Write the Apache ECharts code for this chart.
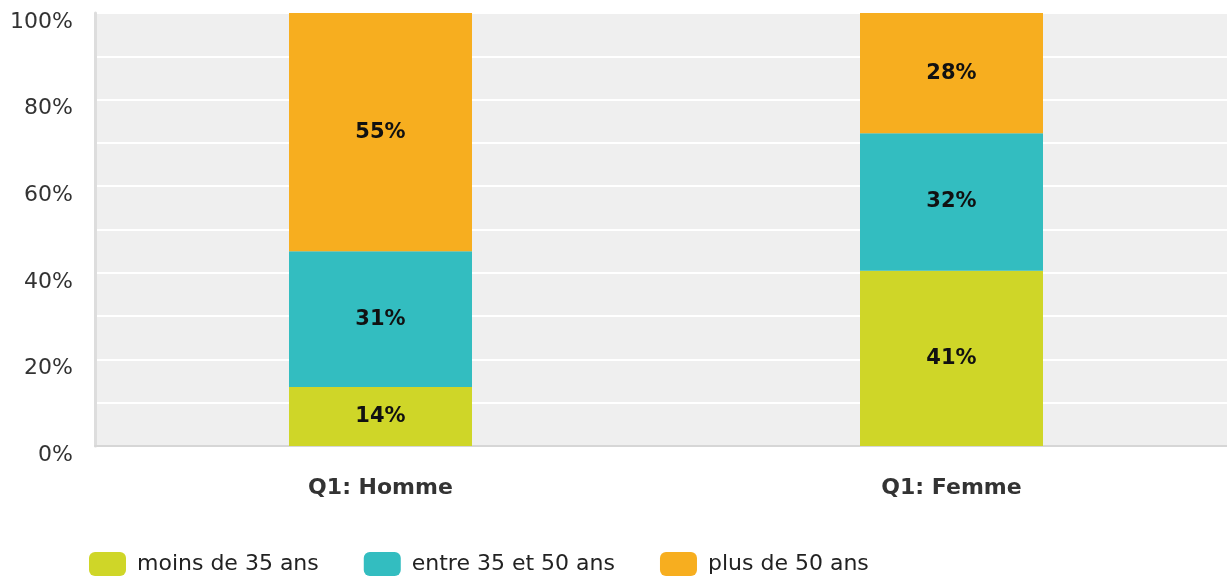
<!DOCTYPE html>
<html>
<head>
<meta charset="utf-8">
<script src="https://cdn.jsdelivr.net/npm/echarts@6/dist/echarts.min.js"></script>
<style>
    html, body { margin: 0; padding: 0; background: #fff; overflow: hidden; }
    #chart { width: 1237px; height: 577px; }
</style>
</head>
<body>
<div id="chart"></div>
<script>
// catégories et valeurs (en %)
var categories = ['Q1: Homme', 'Q1: Femme'];
var moins35 = [13.6, 40.5];
var entre3550 = [31.4, 31.7];
var plus50 = [55.0, 27.8];
var seriesNames = ['moins de 35 ans', 'entre 35 et 50 ans', 'plus de 50 ans'];

(function () {
    // le graphique déborde de 10px à droite, comme l'original
    var chart = echarts.init(document.getElementById('chart'));
    var font = 'DejaVu Sans';

    var barLabel = {
        show: true,
        position: 'inside',
        fontFamily: font,
        fontSize: 21,
        fontWeight: 'bold',
        color: '#111',
        formatter: function (p) { return Math.round(p.value) + '%'; }
    };

    option = {
        animation: false,
        color: ['#cfd628', '#33bdc0', '#f7ae1f'],
        grid: {
            left: 95,
            top: 13,
            right: 0,
            bottom: 131,
            show: true,
            backgroundColor: '#efefef',
            borderWidth: 0
        },
        legend: {
            left: 89,
            top: 552,
            padding: 0,
            itemWidth: 37,
            itemHeight: 24,
            itemGap: 45,
            icon: 'roundRect',
            textStyle: {
                fontFamily: font,
                fontSize: 22,
                color: '#222',
                padding: [0, 0, 0, 6]
            },
            data: seriesNames
        },
        xAxis: {
            type: 'category',
            data: categories,
            axisTick: { show: false },
            axisLine: { show: true, lineStyle: { color: '#d6d6d6', width: 2 } },
            axisLabel: {
                margin: 31,
                fontFamily: font,
                fontSize: 22,
                fontWeight: 'bold',
                color: '#333'
            }
        },
        yAxis: {
            type: 'value',
            min: 0,
            max: 100,
            interval: 10,
            axisTick: { show: false },
            axisLine: { show: true, lineStyle: { color: '#dddddd', width: 3 } },
            splitLine: { lineStyle: { color: '#ffffff', width: 2 } },
            axisLabel: {
                margin: 22,
                fontFamily: font,
                fontSize: 22,
                color: '#333',
                verticalAlign: 'top',
                lineHeight: 18,
                formatter: function (v) { return v % 20 === 0 ? v + '%' : ''; }
            }
        },
        series: [
            { name: seriesNames[0], type: 'bar', stack: 'age', barWidth: 183, label: barLabel, data: moins35 },
            { name: seriesNames[1], type: 'bar', stack: 'age', barWidth: 183, label: barLabel, data: entre3550 },
            { name: seriesNames[2], type: 'bar', stack: 'age', barWidth: 183, label: barLabel, data: plus50 }
        ]
    };

    chart.setOption(option);
})();
</script>
</body>
</html>
